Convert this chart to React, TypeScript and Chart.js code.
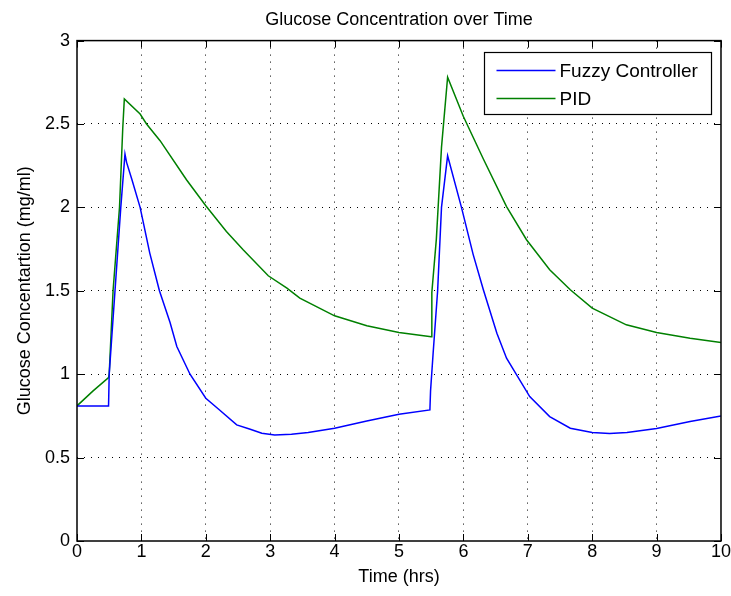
import React, { useEffect, useRef } from "react";
import { Chart, registerables } from "chart.js";

Chart.register(...registerables);

// ---- Data ----
const fuzzyTime = [0, 0.49, 0.5, 0.59, 0.68, 0.745, 0.77, 0.85, 0.98, 1.13, 1.28, 1.445, 1.55, 1.755, 2.0, 2.2, 2.48, 2.69, 2.87, 3.07, 3.33, 3.59, 4.0, 4.5, 5.0, 5.48, 5.49, 5.53, 5.6, 5.66, 5.755, 5.97, 6.15, 6.31, 6.52, 6.67, 7.03, 7.34, 7.66, 8.0, 8.27, 8.54, 9.0, 9.52, 10];
const fuzzyValues = [0.81, 0.81, 1.0, 1.5, 2.0, 2.32, 2.27, 2.17, 2.0, 1.726, 1.5, 1.31, 1.166, 1.0, 0.856, 0.79, 0.696, 0.67, 0.646, 0.636, 0.64, 0.65, 0.676, 0.72, 0.76, 0.786, 0.9, 1.126, 1.5, 2.0, 2.31, 2.0, 1.72, 1.506, 1.246, 1.096, 0.866, 0.746, 0.676, 0.65, 0.645, 0.65, 0.675, 0.716, 0.75];

const pidTime = [0, 0.25, 0.49, 0.5, 0.56, 0.66, 0.71, 0.735, 0.98, 1.08, 1.29, 1.7, 2.0, 2.32, 2.58, 2.97, 3.26, 3.46, 4.0, 4.5, 5.0, 5.5, 5.51, 5.58, 5.66, 5.755, 6.0, 6.31, 6.67, 6.98, 7.34, 7.66, 8.0, 8.53, 9.0, 9.52, 10];
const pidValues = [0.81, 0.9, 0.98, 1.0, 1.5, 2.0, 2.47, 2.65, 2.56, 2.5, 2.4, 2.166, 2.01, 1.856, 1.746, 1.59, 1.516, 1.456, 1.35, 1.29, 1.25, 1.225, 1.49, 1.81, 2.36, 2.78, 2.545, 2.29, 2.005, 1.806, 1.626, 1.506, 1.396, 1.296, 1.25, 1.216, 1.19];

const seriesLabels = ["Fuzzy Controller", "PID"];
const seriesColors = ["#0000ff", "#008000"];
const titleText = "Glucose Concentration over Time";
const xTitle = "Time (hrs)";
const yTitle = "Glucose Concentartion (mg/ml)";
const xRange = [0, 10];
const yRange = [0, 3];

const FONT = "'Liberation Sans', Arial, Helvetica, sans-serif";

const framePlugin = {
  id: "matlabFrame",
  afterDatasetsDraw(chart: any) {
    const { ctx, chartArea, scales } = chart;
    const { left, right, top, bottom } = chartArea;
    const x = scales.x;
    const y = scales.y;
    ctx.save();
    ctx.strokeStyle = "#000";
    ctx.lineWidth = 1;
    const tl = 7;
    ctx.beginPath();
    x.ticks.forEach((t: any) => {
      const px = Math.round(x.getPixelForValue(t.value)) + 0.5;
      ctx.moveTo(px, bottom);
      ctx.lineTo(px, bottom - tl);
      ctx.moveTo(px, top);
      ctx.lineTo(px, top + tl);
    });
    y.ticks.forEach((t: any) => {
      const py = Math.round(y.getPixelForValue(t.value)) + 0.5;
      ctx.moveTo(left, py);
      ctx.lineTo(left + tl, py);
      ctx.moveTo(right, py);
      ctx.lineTo(right - tl, py);
    });
    ctx.stroke();
    ctx.lineWidth = 1.5;
    ctx.strokeRect(left, top, right - left, bottom - top);

    // legend
    const lw = 227;
    const lh = 62;
    const lx = Math.round(right - 10 - lw) + 0.5;
    const ly = Math.round(top + 11) + 0.5;
    ctx.fillStyle = "#fff";
    ctx.fillRect(lx, ly, lw, lh);
    ctx.lineWidth = 1.2;
    ctx.strokeStyle = "#000";
    ctx.strokeRect(lx, ly, lw, lh);
    ctx.font = `19px ${FONT}`;
    ctx.textBaseline = "middle";
    ctx.textAlign = "left";
    chart.data.datasets.forEach((ds: any, i: number) => {
      const cy = ly + 18 + i * 28;
      ctx.strokeStyle = ds.borderColor;
      ctx.lineWidth = 1.5;
      ctx.beginPath();
      ctx.moveTo(lx + 12, cy);
      ctx.lineTo(lx + 71, cy);
      ctx.stroke();
      ctx.fillStyle = "#000";
      ctx.fillText(ds.label, lx + 75, cy + 1);
    });
    ctx.restore();
  },
};

export default function App() {
  const canvasRef = useRef<HTMLCanvasElement | null>(null);

  useEffect(() => {
    document.body.style.margin = "0";
    const canvas = canvasRef.current;
    if (!canvas) return;
    const gridColor = (c: any) => {
      const v = c.tick ? c.tick.value : null;
      const sc = c.scale;
      if (v === null || v === sc.min || v === sc.max) return "rgba(0,0,0,0)";
      return "#000";
    };
    const fmt = (v: any) => String(Number(v));
    const chart = new Chart(canvas, {
      type: "line",
      data: {
        datasets: [
          {
            label: seriesLabels[0],
            data: fuzzyTime.map((t, i) => ({ x: t, y: fuzzyValues[i] })),
            borderColor: seriesColors[0],
            backgroundColor: seriesColors[0],
            borderWidth: 1.5,
            pointRadius: 0,
            tension: 0,
            fill: false,
          },
          {
            label: seriesLabels[1],
            data: pidTime.map((t, i) => ({ x: t, y: pidValues[i] })),
            borderColor: seriesColors[1],
            backgroundColor: seriesColors[1],
            borderWidth: 1.5,
            pointRadius: 0,
            tension: 0,
            fill: false,
          },
        ],
      },
      options: {
        responsive: false,
        animation: false,
        devicePixelRatio: 1,
        layout: { padding: { left: 0, right: 10, top: 0, bottom: 0 } },
        plugins: {
          legend: { display: false },
          tooltip: { enabled: false },
          title: {
            display: true,
            fullSize: false,
            text: titleText,
            color: "#000",
            font: { family: FONT, size: 18, weight: "normal" },
            padding: { top: 9, bottom: 10 },
          },
        },
        scales: {
          x: {
            type: "linear",
            min: xRange[0],
            max: xRange[1],
            ticks: { stepSize: 1, color: "#000", padding: 0, callback: fmt, font: { family: FONT, size: 18 } },
            grid: { color: gridColor, lineWidth: 1, drawTicks: false },
            border: { display: false, dash: [1, 6] },
            title: {
              display: true,
              text: xTitle,
              color: "#000",
              font: { family: FONT, size: 18 },
              padding: { top: 0, bottom: 8 },
            },
            afterFit: (s: any) => {
              s.height = 55;
            },
          },
          y: {
            type: "linear",
            min: yRange[0],
            max: yRange[1],
            ticks: { stepSize: 0.5, color: "#000", padding: 7, callback: fmt, font: { family: FONT, size: 18 } },
            grid: { color: gridColor, lineWidth: 1, drawTicks: false },
            border: { display: false, dash: [1, 6] },
            title: {
              display: true,
              text: yTitle,
              color: "#000",
              font: { family: FONT, size: 18 },
              padding: { top: 14, bottom: 0 },
            },
            afterFit: (s: any) => {
              s.width = 77;
            },
          },
        },
      },
      plugins: [framePlugin],
    });
    return () => chart.destroy();
  }, []);

  return (
    <div style={{ width: 731, height: 596, background: "#fff" }}>
      <canvas ref={canvasRef} width={731} height={596} style={{ display: "block" }} />
    </div>
  );
}
